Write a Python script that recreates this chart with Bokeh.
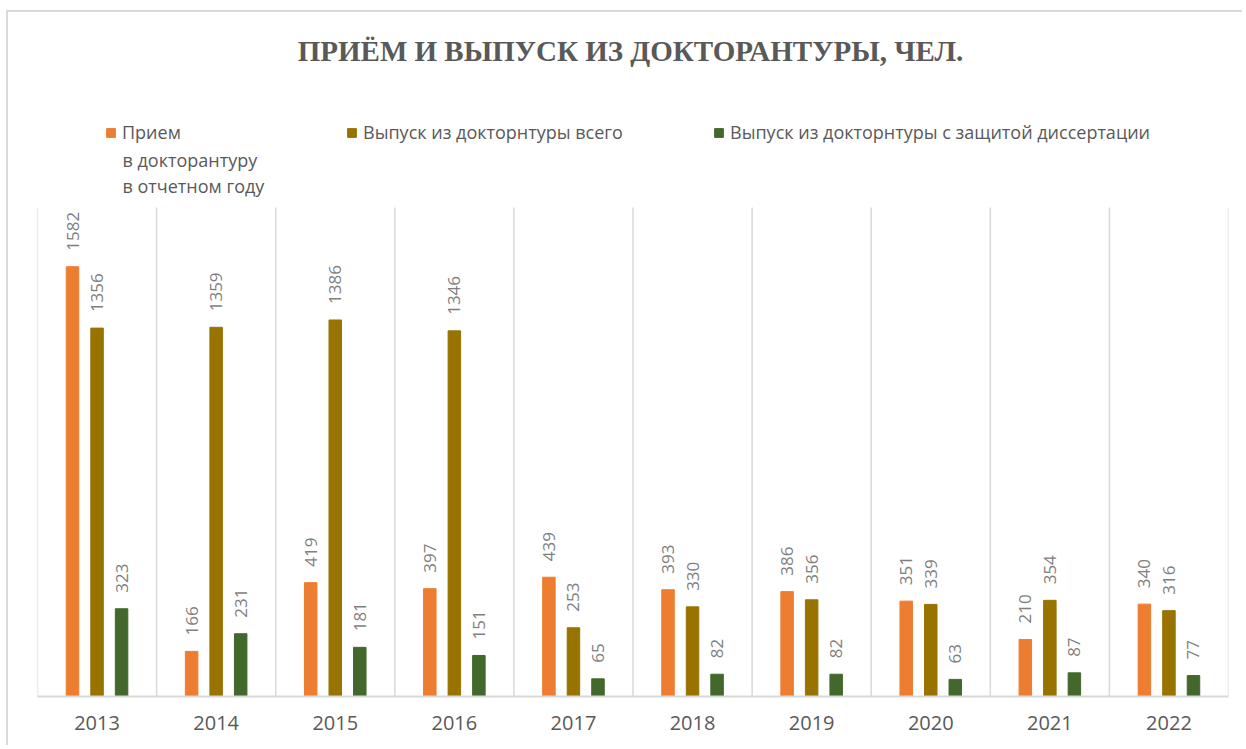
import math
from bokeh.plotting import figure
from bokeh.models import ColumnDataSource, FixedTicker, Legend, LegendItem, Label
from bokeh.transform import dodge
from bokeh.core.properties import value
from bokeh.embed import file_html
from bokeh.resources import INLINE

years = ["2013", "2014", "2015", "2016", "2017", "2018", "2019", "2020", "2021", "2022"]
priem = [1582, 166, 419, 397, 439, 393, 386, 351, 210, 340]
vypusk = [1356, 1359, 1386, 1346, 253, 330, 356, 339, 354, 316]
zashita = [323, 231, 181, 151, 65, 82, 82, 63, 87, 77]

title_text = "ПРИЁМ И ВЫПУСК ИЗ ДОКТОРАНТУРЫ, ЧЕЛ."
series_names = [
    "Прием",
    "Выпуск из докторнтуры всего",
    "Выпуск из докторнтуры с защитой диссертации",
]
first_name_more = ["в докторантуру", "в отчетном году"]
colors = ["#ED7D31", "#997300", "#43682B"]

n = len(years)
centers = [i + 0.5 for i in range(n)]
bounds = list(range(n + 1))
axis_max = 1800

# layout (pixels)
W, H = 1236, 735
ML, MR, MT, MB = 29, 16, 0, 51
frame_h = H - MT - MB
plot_h = 489  # pixel height of the 0..axis_max band
y_end = axis_max * frame_h / plot_h

src = ColumnDataSource(dict(
    x=centers,
    priem=priem, vypusk=vypusk, zashita=zashita,
    priem_l=[str(v) for v in priem],
    vypusk_l=[str(v) for v in vypusk],
    zashita_l=[str(v) for v in zashita],
))

p = figure(width=W, height=H, x_range=(0, n), y_range=(0, y_end),
           output_backend="svg", toolbar_location=None,
           min_border_left=ML, min_border_right=MR,
           min_border_top=MT, min_border_bottom=MB)
p.margin = (10, 0, 0, 6)
p.styles = {"border-left": "2px solid #d9d9d9", "border-top": "2px solid #d9d9d9"}

# category separators
p.segment(x0=bounds, y0=[0] * len(bounds), x1=bounds, y1=[axis_max] * len(bounds),
          line_color="#d9d9d9", line_width=1.5)

offsets = [-0.206, 0.0, 0.206]
fields = ["priem", "vypusk", "zashita"]
renderers = []
for f, off, c in zip(fields, offsets, colors):
    r = p.vbar(x=dodge("x", off, range=p.x_range), top=f, width=0.105, source=src,
               fill_color=c, line_color=c)
    renderers.append(r)
    p.text(x=dodge("x", off, range=p.x_range), y=f, text=f + "_l", source=src,
           angle=math.pi / 2, text_align="left", text_baseline="middle",
           y_offset=-16, text_font=value("Open Sans"), text_font_size="17px",
           text_color="#7f7f7f")

legend_pos = [(68, 552), (309, 552), (676, 552)]
for name, r, pos in zip(series_names, renderers, legend_pos):
    lg = Legend(items=[LegendItem(label=name, renderers=[r])], location=pos,
                orientation="vertical", padding=0, margin=0, spacing=0,
                border_line_color=None, background_fill_alpha=0,
                glyph_width=11, glyph_height=11, label_standoff=6,
                label_height=20,
                label_text_font="Open Sans", label_text_font_size="18px",
                label_text_color="#595959")
    p.add_layout(lg, "center")

for i, t in enumerate(first_name_more):
    p.add_layout(Label(x=85, y=537 - 26 * i, x_units="screen", y_units="screen", text=t,
                       text_align="left", text_baseline="middle",
                       text_font="Open Sans", text_font_size="18px", text_color="#595959"))

p.add_layout(Label(x=593, y=646, x_units="screen", y_units="screen", text=title_text,
                   text_align="center", text_baseline="middle",
                   text_font="Liberation Serif", text_font_style="bold",
                   text_font_size="29px", text_color="#595959"))

p.xaxis.ticker = FixedTicker(ticks=centers)
p.xaxis.major_label_overrides = {c: y for c, y in zip(centers, years)}
p.xaxis.major_label_text_font = "Open Sans"
p.xaxis.major_label_text_font_size = "20px"
p.xaxis.major_label_text_color = "#595959"
p.xaxis.major_label_standoff = 13
p.xaxis.axis_line_color = "#d9d9d9"
p.xaxis.axis_line_width = 2
p.xaxis.major_tick_line_color = None
p.xaxis.minor_tick_line_color = None
p.yaxis.visible = False

p.xgrid.visible = False
p.ygrid.visible = False
p.outline_line_color = None

open("out.html", "w").write(file_html(p, INLINE))
